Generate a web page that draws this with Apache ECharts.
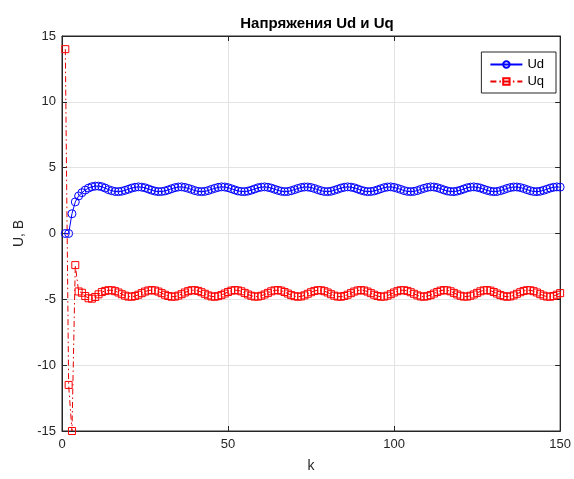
<!DOCTYPE html>
<html lang="ru">
<head>
<meta charset="UTF-8">
<title>Напряжения Ud и Uq</title>
<script src="https://cdn.jsdelivr.net/npm/echarts@6/dist/echarts.min.js"></script>
<style>
    html,body{margin:0;padding:0;background:#fff;}
    #main{width:574px;height:479px;}
</style>
</head>
<body>
<div id="main"></div>
<script>
// отсчёты k = 1..150
var ud = [
    0, 0, 1.5, 2.4, 2.85, 3.1, 3.3,
    3.45, 3.55, 3.6, 3.6, 3.55, 3.45,
    3.33, 3.25, 3.19, 3.18, 3.21, 3.28, 3.36, 3.45, 3.51, 3.54,
    3.52, 3.47, 3.38, 3.29, 3.22, 3.18, 3.19, 3.23, 3.31, 3.40,
    3.48, 3.53, 3.54, 3.50, 3.43, 3.35, 3.26, 3.20, 3.18, 3.20,
    3.26, 3.35, 3.43, 3.50, 3.54, 3.53, 3.48, 3.40, 3.31, 3.23,
    3.19, 3.18, 3.22, 3.29, 3.38, 3.47, 3.52, 3.54, 3.51, 3.45,
    3.36, 3.28, 3.21, 3.18, 3.19, 3.25, 3.33,
    3.42, 3.49, 3.53, 3.53, 3.49, 3.42,
    3.33, 3.25, 3.19, 3.18, 3.21, 3.28, 3.36, 3.45, 3.51, 3.54,
    3.52, 3.47, 3.38, 3.29, 3.22, 3.18, 3.19, 3.23, 3.31, 3.40,
    3.48, 3.53, 3.54, 3.50, 3.43, 3.35, 3.26, 3.20, 3.18, 3.20,
    3.26, 3.35, 3.43, 3.50, 3.54, 3.53, 3.48, 3.40, 3.31, 3.23,
    3.19, 3.18, 3.22, 3.29, 3.38, 3.47, 3.52, 3.54, 3.51, 3.45,
    3.36, 3.28, 3.21, 3.18, 3.19, 3.25, 3.33,
    3.42, 3.49, 3.53, 3.53, 3.49, 3.42, 3.33, 3.25, 3.19, 3.18,
    3.21, 3.28, 3.36, 3.45, 3.51, 3.54, 3.52
];
var uq = [
    14.0, -11.5, -15.0, -2.4, -4.40, -4.50, -4.75,
    -4.92, -4.95, -4.82, -4.62, -4.45,
    -4.36, -4.31, -4.31, -4.38, -4.48, -4.61, -4.72, -4.79, -4.80, -4.75,
    -4.65, -4.53, -4.41, -4.33, -4.30, -4.33, -4.41, -4.53, -4.65, -4.75,
    -4.80, -4.79, -4.72, -4.61, -4.48, -4.38, -4.31, -4.31, -4.36, -4.46,
    -4.58, -4.70, -4.78, -4.80, -4.76, -4.68, -4.56, -4.44, -4.34, -4.30,
    -4.32, -4.39, -4.51, -4.63, -4.73, -4.79, -4.79, -4.73, -4.63, -4.51,
    -4.39, -4.32, -4.30, -4.34, -4.44, -4.56, -4.68, -4.76,
    -4.80, -4.78, -4.70, -4.58, -4.46,
    -4.36, -4.31, -4.31, -4.38, -4.48, -4.61, -4.72, -4.79, -4.80, -4.75,
    -4.65, -4.53, -4.41, -4.33, -4.30, -4.33, -4.41, -4.53, -4.65, -4.75,
    -4.80, -4.79, -4.72, -4.61, -4.48, -4.38, -4.31, -4.31, -4.36, -4.46,
    -4.58, -4.70, -4.78, -4.80, -4.76, -4.68, -4.56, -4.44, -4.34, -4.30,
    -4.32, -4.39, -4.51, -4.63, -4.73, -4.79, -4.79, -4.73, -4.63, -4.51,
    -4.39, -4.32, -4.30, -4.34, -4.44, -4.56, -4.68, -4.76,
    -4.80, -4.78, -4.70, -4.58, -4.46, -4.36, -4.31, -4.31, -4.38, -4.48,
    -4.61, -4.72, -4.79, -4.80, -4.75, -4.65, -4.53
];
var xTicks = [0, 50, 100, 150];
var yTicks = [-15, -10, -5, 0, 5, 10, 15];

function pairs(vals) {
    var out = [];
    for (var i = 0; i < vals.length; i++) out.push([i + 1, vals[i]]);
    return out;
}

var font = 'Liberation Sans, Arial, sans-serif';
var axCol = '#262626';

var myChart = echarts.init(document.getElementById('main'));
var option = {
    animation: false,
    title: {
        text: 'Напряжения Ud и Uq',
        left: 312, top: 11, textAlign: 'center',
        textStyle: {fontFamily: font, fontSize: 15, fontWeight: 'bold', color: '#000'}
    },
    legend: {
        orient: 'vertical', right: 18, top: 52,
        backgroundColor: '#fff', borderColor: axCol, borderWidth: 1,
        padding: [6, 12, 5, 8], itemGap: 4, itemWidth: 32, itemHeight: 8,
        textStyle: {fontFamily: font, fontSize: 13, color: '#000'},
        data: ['Ud', 'Uq']
    },
    grid: {left: 62, right: 12, top: 36, bottom: 48, show: true, borderColor: axCol, borderWidth: 1},
    xAxis: [{
        type: 'value', min: 0, max: 150, interval: 50,
        name: 'k', nameLocation: 'middle', nameGap: 28,
        nameTextStyle: {fontFamily: font, fontSize: 14, color: axCol},
        axisLine: {onZero: false, lineStyle: {color: axCol}},
        axisTick: {inside: true, length: 5, lineStyle: {color: axCol}},
        axisLabel: {fontFamily: font, fontSize: 13, color: axCol, margin: 7,
            formatter: function (v) { return xTicks.indexOf(v) >= 0 ? v : ''; }},
        splitLine: {lineStyle: {color: '#e3e3e3'}}
    }, {
        type: 'value', min: 0, max: 150, interval: 50, position: 'top',
        axisLine: {onZero: false, lineStyle: {color: axCol}},
        axisTick: {inside: true, length: 5, lineStyle: {color: axCol}},
        axisLabel: {show: false}, splitLine: {show: false}
    }],
    yAxis: [{
        type: 'value', min: -15, max: 15, interval: 5,
        name: 'U, В', nameLocation: 'middle', nameGap: 36,
        nameTextStyle: {fontFamily: font, fontSize: 14, color: axCol},
        axisLine: {show: true, onZero: false, lineStyle: {color: axCol}},
        axisTick: {show: true, inside: true, length: 5, lineStyle: {color: axCol}},
        axisLabel: {fontFamily: font, fontSize: 13, color: axCol, margin: 6,
            formatter: function (v) { return yTicks.indexOf(v) >= 0 ? v : ''; }},
        splitLine: {lineStyle: {color: '#e3e3e3'}}
    }, {
        type: 'value', min: -15, max: 15, interval: 5, position: 'right',
        axisLine: {show: true, onZero: false, lineStyle: {color: axCol}},
        axisTick: {show: true, inside: true, length: 5, lineStyle: {color: axCol}},
        axisLabel: {show: false}, splitLine: {show: false}
    }],
    series: [{
        name: 'Ud', type: 'line', data: pairs(ud),
        symbol: 'circle', symbolSize: 8, showAllSymbol: true,
        lineStyle: {color: '#0000ff', width: 1},
        itemStyle: {color: 'rgba(255,255,255,0)', borderColor: '#0000ff', borderWidth: 1}
    }, {
        name: 'Uq', type: 'line', data: pairs(uq),
        symbol: 'rect', symbolSize: 7, showAllSymbol: true,
        lineStyle: {color: '#e60000', width: 1, type: [6, 3, 1.5, 3]},
        itemStyle: {color: 'rgba(255,255,255,0)', borderColor: '#ff0000', borderWidth: 1}
    }]
};
myChart.setOption(option);
</script>
</body>
</html>
